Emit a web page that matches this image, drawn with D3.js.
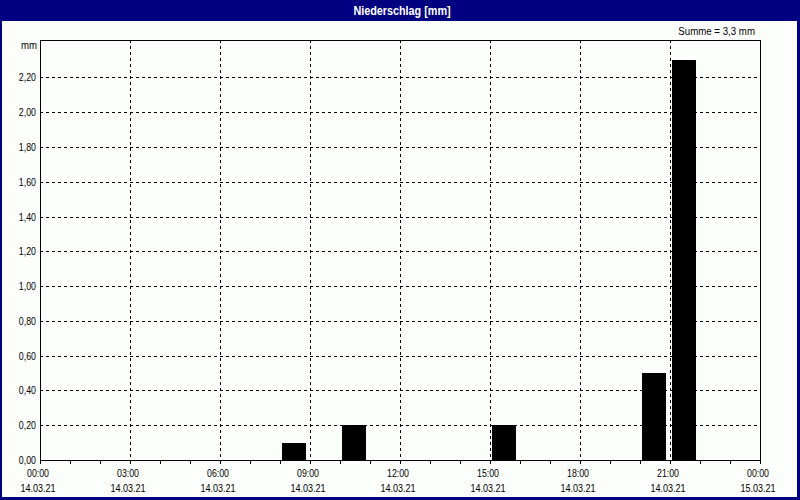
<!DOCTYPE html>
<html>
<head>
<meta charset="utf-8">
<script src="https://cdn.jsdelivr.net/npm/d3@7"></script>
<style>
  html, body { margin: 0; padding: 0; background: #fff; }
  svg { display: block; }
  text { font-family: "Liberation Sans", Arial, sans-serif; }
</style>
</head>
<body>
<svg id="chart" width="800" height="500"></svg>
<script>
// ---- data ----
const title = "Niederschlag [mm]";
const unitLabel = "mm";
const startDay = "2021-03-14T00:00:00";
const endDay = "2021-03-15T00:00:00";
// hourly precipitation (mm), hour 0..23 of 14.03.21
const hourIndex = [0,1,2,3,4,5,6,7,8,9,10,11,12,13,14,15,16,17,18,19,20,21,22,23];
const precip    = [0,0,0,0,0,0,0,0,0.1,0,0.2,0,0,0,0,0.2,0,0,0,0,0.5,2.3,0,0];
const yTicks = [0,0.2,0.4,0.6,0.8,1.0,1.2,1.4,1.6,1.8,2.0,2.2];

// ---- setup ----
const W = 800, H = 500;
const m = {left: 40, top: 40, right: 760, bottom: 460};
const svg = d3.select("#chart");
const navy = "#000080";
const bg = "#fcfefc";

const loc = d3.formatLocale({decimal: ",", thousands: ".", grouping: [3], currency: ["", " €"]});
const fmt2 = loc.format(".2f");
const fmt1 = loc.format(".1f");

// narrow the text to mimic the narrow pixel font of the original
function condense(sel, factor) {
  sel.each(function() {
    const w = this.getComputedTextLength();
    d3.select(this).attr("textLength", (w * factor).toFixed(2)).attr("lengthAdjust", "spacingAndGlyphs");
  });
}

const t0 = new Date(startDay), t1 = new Date(endDay);
const x = d3.scaleTime().domain([t0, t1]).range([m.left, m.right]);
const yMax = d3.max(precip) * 1.05;
const y = d3.scaleLinear().domain([0, yMax]).range([m.bottom, m.top]);

// background
svg.append("rect").attr("x",0).attr("y",0).attr("width",W).attr("height",H).attr("fill",bg);
// title bar
svg.append("rect").attr("x",0).attr("y",0).attr("width",W).attr("height",21).attr("fill",navy);
svg.append("text").attr("x",402).attr("y",15).attr("text-anchor","middle")
  .attr("fill","#fff").attr("font-weight","bold").attr("font-size",12).text(title)
  .call(condense, 0.9);
// frame borders
svg.append("rect").attr("x",0).attr("y",0).attr("width",2).attr("height",H).attr("fill",navy);
svg.append("rect").attr("x",797).attr("y",0).attr("width",3).attr("height",H).attr("fill",navy);
svg.append("rect").attr("x",0).attr("y",497).attr("width",W).attr("height",3).attr("fill",navy);

// gridlines
const hourTicks3 = d3.timeHour.every(3).range(t0, d3.timeHour.offset(t1, 1));
const g = svg.append("g").attr("stroke","#000").attr("stroke-width",1).attr("stroke-dasharray","3,3").attr("shape-rendering","crispEdges");
g.selectAll("line.h").data(yTicks.filter(v => v > 0)).join("line")
  .attr("x1", m.left).attr("x2", m.right)
  .attr("y1", d => Math.round(y(d)) + 0.5).attr("y2", d => Math.round(y(d)) + 0.5);
g.selectAll("line.v").data(hourTicks3.filter(d => +d > +t0 && +d < +t1)).join("line")
  .attr("x1", d => Math.round(x(d)) + 0.5).attr("x2", d => Math.round(x(d)) + 0.5)
  .attr("y1", m.top).attr("y2", m.bottom);

// bars
svg.append("g").selectAll("rect").data(hourIndex.filter(i => precip[i] > 0)).join("rect")
  .attr("x", i => x(d3.timeHour.offset(t0, i)) + 2)
  .attr("width", i => x(d3.timeHour.offset(t0, i + 1)) - x(d3.timeHour.offset(t0, i)) - 6)
  .attr("y", i => Math.round(y(precip[i])))
  .attr("height", i => m.bottom - Math.round(y(precip[i])))
  .attr("fill", "#000");

// plot frame (top, right, left) and x axis
const frame = svg.append("g").attr("stroke","#000").attr("stroke-width",1).attr("shape-rendering","crispEdges").attr("fill","none");
frame.append("path").attr("d", `M${m.left+0.5},${m.bottom}V${m.top+0.5}H${m.right+0.5}V${m.bottom}`);

const xAxis = d3.axisBottom(x).ticks(d3.timeHour.every(1)).tickSize(3).tickFormat("");
const ax = svg.append("g").attr("transform", `translate(0,${m.bottom + 0.5})`).call(xAxis);
ax.select(".domain").attr("stroke","#000").attr("d", `M${m.left},0H${m.right+1}`);
ax.selectAll(".tick line").attr("stroke","#000").attr("shape-rendering","crispEdges");

// x labels
const fmtTime = d3.timeFormat("%H:%M");
const fmtDate = d3.timeFormat("%d.%m.%y");
const xl = svg.append("g").attr("font-size",11).attr("fill","#000").attr("text-anchor","middle");
xl.selectAll("text.t").data(hourTicks3).join("text").attr("class","t")
  .attr("x", d => x(d) - 2).attr("y", 477).text(d => fmtTime(d)).call(condense, 0.8);
xl.selectAll("text.d").data(hourTicks3).join("text").attr("class","d")
  .attr("x", d => x(d) - 2).attr("y", 492).text(d => fmtDate(d)).call(condense, 0.82);

// y labels
const yl = svg.append("g").attr("font-size",11).attr("fill","#000").attr("text-anchor","end");
yl.selectAll("text").data(yTicks).join("text")
  .attr("x", 36).attr("y", d => y(d) + 4).text(d => fmt2(d)).call(condense, 0.8);
svg.append("text").attr("x",37).attr("y",49).attr("text-anchor","end").attr("font-size",11).text(unitLabel)
  .call(condense, 0.87);

// sum
const total = d3.sum(precip);
svg.append("text").attr("x",755).attr("y",35).attr("text-anchor","end").attr("font-size",11)
  .text(`Summe = ${fmt1(total)} mm`).call(condense, 0.88);
</script>
</body>
</html>
